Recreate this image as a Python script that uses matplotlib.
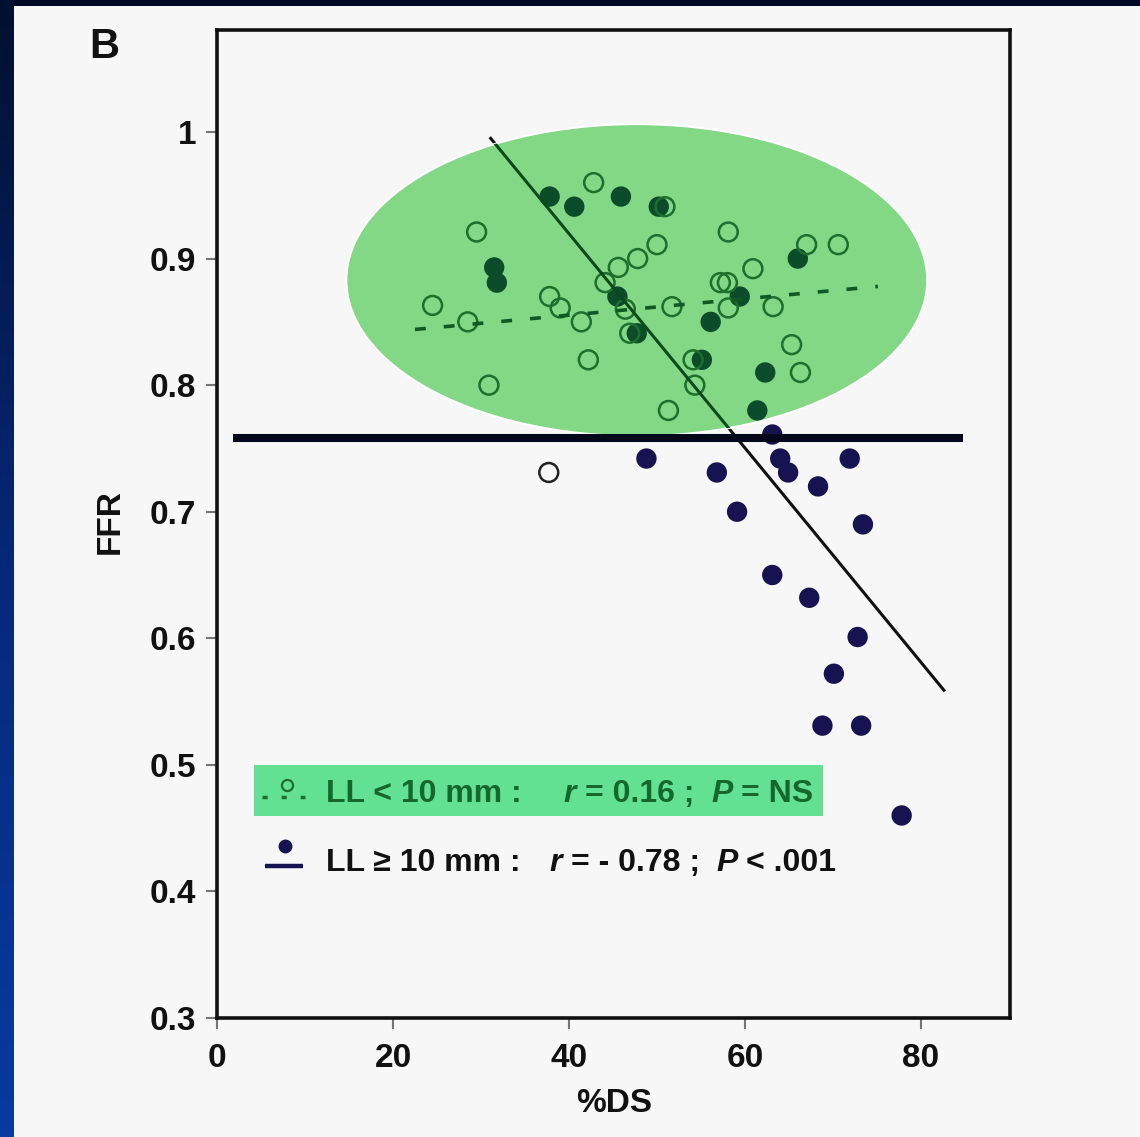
import numpy as np
import matplotlib
matplotlib.use("Agg")
import matplotlib.pyplot as plt
from matplotlib.patches import Ellipse, Rectangle

# ---------------- data ----------------
# LL < 10 mm (open circles)
short_ds = [42.8, 29.5, 24.5, 28.5, 37.8, 39.0, 41.4, 42.2, 30.9, 45.6, 47.8, 44.1,
            50.9, 50.0, 58.1, 67.0, 70.6, 60.9, 57.2, 58.0, 63.2, 51.7, 58.1, 46.4,
            46.9, 65.3, 54.1, 66.3, 54.3, 51.3, 37.7]
short_ffr = [0.960, 0.921, 0.863, 0.850, 0.870, 0.861, 0.850, 0.820, 0.800, 0.893, 0.900, 0.881,
             0.941, 0.911, 0.921, 0.911, 0.911, 0.892, 0.881, 0.881, 0.862, 0.862, 0.861, 0.860,
             0.841, 0.832, 0.820, 0.810, 0.800, 0.780, 0.731]
# LL >= 10 mm (filled circles)
long_ds = [37.8, 40.6, 45.9, 50.2, 31.5, 31.8, 45.5, 47.7, 66.0, 59.4, 56.1, 55.1,
           62.3, 61.4, 63.1, 48.8, 56.8, 64.0, 64.9, 71.9, 68.3, 59.1, 73.4, 63.1,
           67.3, 72.8, 70.1, 68.8, 73.2, 77.8]
long_ffr = [0.949, 0.941, 0.949, 0.941, 0.893, 0.881, 0.870, 0.841, 0.900, 0.870, 0.850, 0.820,
            0.810, 0.780, 0.761, 0.742, 0.731, 0.742, 0.731, 0.742, 0.720, 0.700, 0.690, 0.650,
            0.632, 0.601, 0.572, 0.531, 0.531, 0.460]
# regression lines (end points)
fit_long_x = [31.1, 82.6]
fit_long_y = [0.995, 0.559]
fit_short_x = [22.5, 75.1]
fit_short_y = [0.844, 0.878]
# cut-off line
cutoff_ffr = 0.758
cutoff_x = [1.8, 84.8]

xticks = [0, 20, 40, 60, 80]
yticks = [0.3, 0.4, 0.5, 0.6, 0.7, 0.8, 0.9, 1.0]
ytick_labels = ["0.3", "0.4", "0.5", "0.6", "0.7", "0.8", "0.9", "1"]

legend_short = ["LL < 10 mm :", "r", "= 0.16 ;", "P", "= NS"]
legend_long = ["LL \u2265 10 mm :", "r", "= - 0.78 ;", "P", "< .001"]

# ---------------- figure ----------------
W, H = 1140, 1137
plt.rcParams['font.family'] = ['Liberation Sans', 'DejaVu Sans']
fig = plt.figure(figsize=(W / 100, H / 100), dpi=100, facecolor='#f7f7f7')

# slide frame: dark top strip and gradient left strip
top = fig.add_axes([0, 1 - 6 / H, 1, 6 / H])
top.set_axis_off()
top.add_patch(Rectangle((0, 0), 1, 1, transform=top.transAxes, color='#000a26'))
left = fig.add_axes([0, 0, 14 / W, 1])
grad = np.linspace(0, 1, 256).reshape(-1, 1)
cmap = matplotlib.colors.LinearSegmentedColormap.from_list('g', ['#001030', '#06287a', '#0a3aa0'])
left.imshow(grad, aspect='auto', cmap=cmap, origin='upper', extent=[0, 1, 0, 1])
left.set_axis_off()

L, R, T, B = 217, 1010, 30, 1018
ax = fig.add_axes([L / W, 1 - B / H, (R - L) / W, (B - T) / H])
ax.set_facecolor('#f7f7f7')
xmax = (R - L) / 8.8
ymax = 1 + (132 - T) / 1265.7
ax.set_xlim(0, xmax)
ax.set_ylim(0.3, ymax)

for s in ax.spines.values():
    s.set_linewidth(2.6)
    s.set_color('#111111')

ax.set_xticks(xticks)
ax.set_xticklabels([str(v) for v in xticks])
ax.set_yticks(yticks)
ax.set_yticklabels(ytick_labels)
ax.tick_params(direction='out', length=8, width=1.5, color='#777777',
               labelsize=24, pad=7)
ax.tick_params(axis='x', pad=10)
for lab in ax.get_xticklabels() + ax.get_yticklabels():
    lab.set_fontweight('bold')
    lab.set_color('#111111')

navy = '#171251'

# base layer
ax.scatter(long_ds, long_ffr, s=215, color=navy, edgecolors='none', zorder=3)
ax.scatter(short_ds, short_ffr, s=185, facecolors='none', edgecolors='#222222',
           linewidths=1.8, zorder=3)
ax.plot(fit_long_x, fit_long_y, color='#111111', lw=2.2, zorder=4)
ax.plot(fit_short_x, fit_short_y, color='#222222', lw=2.6, dashes=(3, 5), zorder=4)

# green highlight ellipse with clipped green redraw
ell = Ellipse((47.7, 0.883), 66.0, 0.2465, facecolor='#82d884', edgecolor='white',
              lw=1.5, zorder=6)
ax.add_patch(ell)
g1 = ax.scatter(long_ds, long_ffr, s=215, color='#0b4d2b', edgecolors='none', zorder=7)
g2 = ax.scatter(short_ds, short_ffr, s=185, facecolors='none', edgecolors='#1e6e2c',
                linewidths=1.8, zorder=7)
g3, = ax.plot(fit_long_x, fit_long_y, color='#0a4a1a', lw=2.2, zorder=7)
g4, = ax.plot(fit_short_x, fit_short_y, color='#0f5a22', lw=2.6, dashes=(3, 5), zorder=7)
for art in (g1, g2, g3, g4):
    art.set_clip_path(ell)

# cut-off line
ax.plot(cutoff_x, [cutoff_ffr, cutoff_ffr], color='#05081a', lw=5.8,
        solid_capstyle='butt', zorder=8)

# ---------------- legend ----------------
def px(xp, yp):
    return ((xp - L) / (R - L), (B - yp) / (B - T))

x0, y0 = px(254, 816)
x1, y1 = px(823, 765)
ax.add_patch(Rectangle((x0, y0), x1 - x0, y1 - y0, transform=ax.transAxes,
                       facecolor='#62e192', edgecolor='none', zorder=9))

# symbols
a, b = px(262, 797); c, d = px(305, 797)
ax.plot([a, c], [b, d], transform=ax.transAxes, color='#1e6e2c', lw=2.5,
        dashes=(1.5, 4), zorder=10)
a, b = px(287, 785)
ax.plot([a], [b], 'o', transform=ax.transAxes, ms=8, mfc='none', mec='#1e6e2c',
        mew=1.6, zorder=10)
a, b = px(285, 846)
ax.plot([a], [b], 'o', transform=ax.transAxes, ms=9, color=navy, zorder=10)
a, b = px(265, 866); c, d = px(303, 866)
ax.plot([a, c], [b, d], transform=ax.transAxes, color=navy, lw=3.2,
        solid_capstyle='butt', zorder=10)

fs = 23
green_txt = '#15672c'
row1_x = [326, 563, 585, 711, 741]
row2_x = [326, 549, 571, 716, 746]
styles = ['normal', 'italic', 'normal', 'italic', 'normal']
for pieces, xs, yb, col in [(legend_short, row1_x, 802, green_txt),
                            (legend_long, row2_x, 871, '#111111')]:
    for t, xp_, st in zip(pieces, xs, styles):
        tx, ty = px(xp_, yb)
        ax.text(tx, ty, t, transform=ax.transAxes, fontsize=fs, fontweight='bold',
                fontstyle=st, color=col, ha='left', va='baseline', zorder=11)

# labels
fig.text(110 / W, 1 - 522 / H, 'FFR', rotation=90, fontsize=24, fontweight='bold',
         ha='center', va='center', color='#111111')
fig.text(614 / W, 1 - 1103 / H, '%DS', fontsize=24, fontweight='bold',
         ha='center', va='center', color='#111111')
fig.text(104 / W, 1 - 47 / H, 'B', fontsize=30, fontweight='bold',
         ha='center', va='center', color='#111111')

fig.savefig('out.png', dpi=100, facecolor=fig.get_facecolor())
